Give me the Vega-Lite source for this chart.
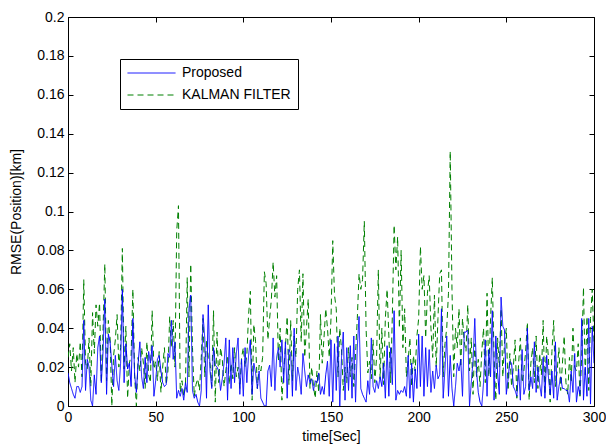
{
  "$schema": "https://vega.github.io/schema/vega-lite/v6.json",
  "autosize": "none",
  "width": 526,
  "height": 389,
  "padding": {"left": 68, "top": 17, "right": 12, "bottom": 41},
  "background": "white",
  "config": {
    "view": {"stroke": "black", "strokeWidth": 1},
    "font": "Liberation Sans",
    "axis": {
      "grid": false,
      "domainColor": "black",
      "tickColor": "black",
      "labelColor": "black",
      "titleColor": "black",
      "labelFont": "Liberation Sans",
      "titleFont": "Liberation Sans",
      "labelFontSize": 14,
      "titleFontSize": 14,
      "titleFontWeight": "normal",
      "tickSize": -5
    }
  },
  "data": {
    "values": [
      {"t":0,"p":0.017,"k":0.025},{"t":1,"p":0.012,"k":0.032},{"t":2,"p":0.009,"k":0.018},{"t":3,"p":0.006,"k":0.030},{"t":4,"p":0.004,"k":0.012},{"t":5,"p":0.010,"k":0.027},{"t":6,"p":0.010,"k":0.020},{"t":7,"p":0.007,"k":0.033},{"t":8,"p":0.010,"k":0.015},{"t":9,"p":0.044,"k":0.065},
      {"t":10,"p":0.008,"k":0.022},{"t":11,"p":0.024,"k":0.019},{"t":12,"p":0.020,"k":0.035},{"t":13,"p":0.003,"k":0.010},{"t":14,"p":0.000,"k":0.048},{"t":15,"p":0.016,"k":0.027},{"t":16,"p":0.006,"k":0.052},{"t":17,"p":0.030,"k":0.041},{"t":18,"p":0.036,"k":0.053},{"t":19,"p":0.012,"k":0.012},
      {"t":20,"p":0.028,"k":0.040},{"t":21,"p":0.055,"k":0.073},{"t":22,"p":0.006,"k":0.013},{"t":23,"p":0.037,"k":0.044},{"t":24,"p":0.033,"k":0.035},{"t":25,"p":0.021,"k":0.000},{"t":26,"p":0.010,"k":0.026},{"t":27,"p":0.026,"k":0.034},{"t":28,"p":0.013,"k":0.047},{"t":29,"p":0.008,"k":0.020},
      {"t":30,"p":0.022,"k":0.030},{"t":31,"p":0.060,"k":0.081},{"t":32,"p":0.012,"k":0.019},{"t":33,"p":0.032,"k":0.041},{"t":34,"p":0.019,"k":0.004},{"t":35,"p":0.022,"k":0.022},{"t":36,"p":0.010,"k":0.026},{"t":37,"p":0.045,"k":0.060},{"t":38,"p":0.016,"k":0.015},{"t":39,"p":0.007,"k":0.000},
      {"t":40,"p":0.022,"k":0.025},{"t":41,"p":0.033,"k":0.018},{"t":42,"p":0.015,"k":0.030},{"t":43,"p":0.009,"k":0.022},{"t":44,"p":0.025,"k":0.009},{"t":45,"p":0.012,"k":0.033},{"t":46,"p":0.028,"k":0.016},{"t":47,"p":0.022,"k":0.012},{"t":48,"p":0.031,"k":0.049},{"t":49,"p":0.005,"k":0.019},
      {"t":50,"p":0.013,"k":0.023},{"t":51,"p":0.024,"k":0.013},{"t":52,"p":0.026,"k":0.028},{"t":53,"p":0.018,"k":0.007},{"t":54,"p":0.012,"k":0.020},{"t":55,"p":0.010,"k":0.030},{"t":56,"p":0.011,"k":0.011},{"t":57,"p":0.027,"k":0.018},{"t":58,"p":0.025,"k":0.046},{"t":59,"p":0.044,"k":0.030},
      {"t":60,"p":0.024,"k":0.044},{"t":61,"p":0.033,"k":0.020},{"t":62,"p":0.004,"k":0.090},{"t":63,"p":0.008,"k":0.103},{"t":64,"p":0.005,"k":0.007},{"t":65,"p":0.009,"k":0.013},{"t":66,"p":0.003,"k":0.005},{"t":67,"p":0.012,"k":0.010},{"t":68,"p":0.007,"k":0.066},{"t":69,"p":0.050,"k":0.015},
      {"t":70,"p":0.057,"k":0.073},{"t":71,"p":0.008,"k":0.030},{"t":72,"p":0.004,"k":0.005},{"t":73,"p":0.006,"k":0.011},{"t":74,"p":0.002,"k":0.014},{"t":75,"p":0.000,"k":0.008},{"t":76,"p":0.008,"k":0.025},{"t":77,"p":0.047,"k":0.045},{"t":78,"p":0.035,"k":0.015},{"t":79,"p":0.004,"k":0.034},
      {"t":80,"p":0.052,"k":0.025},{"t":81,"p":0.018,"k":0.022},{"t":82,"p":0.009,"k":0.010},{"t":83,"p":0.030,"k":0.049},{"t":84,"p":0.021,"k":0.002},{"t":85,"p":0.020,"k":0.038},{"t":86,"p":0.018,"k":0.012},{"t":87,"p":0.008,"k":0.030},{"t":88,"p":0.014,"k":0.024},{"t":89,"p":0.022,"k":0.010},
      {"t":90,"p":0.035,"k":0.018},{"t":91,"p":0.003,"k":0.026},{"t":92,"p":0.034,"k":0.011},{"t":93,"p":0.009,"k":0.022},{"t":94,"p":0.030,"k":0.014},{"t":95,"p":0.012,"k":0.030},{"t":96,"p":0.027,"k":0.015},{"t":97,"p":0.035,"k":0.020},{"t":98,"p":0.006,"k":0.009},{"t":99,"p":0.024,"k":0.025},
      {"t":100,"p":0.005,"k":0.030},{"t":101,"p":0.030,"k":0.020},{"t":102,"p":0.012,"k":0.026},{"t":103,"p":0.026,"k":0.047},{"t":104,"p":0.034,"k":0.059},{"t":105,"p":0.006,"k":0.003},{"t":106,"p":0.022,"k":0.042},{"t":107,"p":0.017,"k":0.033},{"t":108,"p":0.009,"k":0.009},{"t":109,"p":0.018,"k":0.021},
      {"t":110,"p":0.004,"k":0.018},{"t":111,"p":0.002,"k":0.025},{"t":112,"p":0.000,"k":0.069},{"t":113,"p":0.000,"k":0.063},{"t":114,"p":0.018,"k":0.034},{"t":115,"p":0.021,"k":0.045},{"t":116,"p":0.010,"k":0.055},{"t":117,"p":0.035,"k":0.074},{"t":118,"p":0.008,"k":0.056},{"t":119,"p":0.025,"k":0.067},
      {"t":120,"p":0.030,"k":0.023},{"t":121,"p":0.020,"k":0.040},{"t":122,"p":0.034,"k":0.003},{"t":123,"p":0.012,"k":0.018},{"t":124,"p":0.033,"k":0.030},{"t":125,"p":0.004,"k":0.046},{"t":126,"p":0.029,"k":0.011},{"t":127,"p":0.027,"k":0.044},{"t":128,"p":0.005,"k":0.013},{"t":129,"p":0.040,"k":0.036},
      {"t":130,"p":0.008,"k":0.025},{"t":131,"p":0.020,"k":0.060},{"t":132,"p":0.015,"k":0.070},{"t":133,"p":0.006,"k":0.033},{"t":134,"p":0.027,"k":0.068},{"t":135,"p":0.018,"k":0.025},{"t":136,"p":0.010,"k":0.040},{"t":137,"p":0.016,"k":0.055},{"t":138,"p":0.012,"k":0.009},{"t":139,"p":0.014,"k":0.020},
      {"t":140,"p":0.008,"k":0.010},{"t":141,"p":0.013,"k":0.004},{"t":142,"p":0.012,"k":0.018},{"t":143,"p":0.017,"k":0.007},{"t":144,"p":0.006,"k":0.047},{"t":145,"p":0.010,"k":0.022},{"t":146,"p":0.006,"k":0.035},{"t":147,"p":0.016,"k":0.050},{"t":148,"p":0.023,"k":0.040},{"t":149,"p":0.005,"k":0.025},
      {"t":150,"p":0.034,"k":0.045},{"t":151,"p":0.002,"k":0.085},{"t":152,"p":0.032,"k":0.057},{"t":153,"p":0.008,"k":0.050},{"t":154,"p":0.036,"k":0.015},{"t":155,"p":0.000,"k":0.040},{"t":156,"p":0.025,"k":0.029},{"t":157,"p":0.038,"k":0.008},{"t":158,"p":0.003,"k":0.020},{"t":159,"p":0.030,"k":0.012},
      {"t":160,"p":0.008,"k":0.030},{"t":161,"p":0.031,"k":0.015},{"t":162,"p":0.004,"k":0.025},{"t":163,"p":0.036,"k":0.010},{"t":164,"p":0.002,"k":0.027},{"t":165,"p":0.030,"k":0.045},{"t":166,"p":0.046,"k":0.068},{"t":167,"p":0.009,"k":0.060},{"t":168,"p":0.006,"k":0.065},{"t":169,"p":0.004,"k":0.095},
      {"t":170,"p":0.002,"k":0.040},{"t":171,"p":0.013,"k":0.017},{"t":172,"p":0.006,"k":0.023},{"t":173,"p":0.035,"k":0.014},{"t":174,"p":0.010,"k":0.034},{"t":175,"p":0.007,"k":0.012},{"t":176,"p":0.013,"k":0.025},{"t":177,"p":0.009,"k":0.070},{"t":178,"p":0.015,"k":0.014},{"t":179,"p":0.010,"k":0.040},
      {"t":180,"p":0.022,"k":0.011},{"t":181,"p":0.004,"k":0.045},{"t":182,"p":0.031,"k":0.060},{"t":183,"p":0.005,"k":0.036},{"t":184,"p":0.030,"k":0.012},{"t":185,"p":0.011,"k":0.047},{"t":186,"p":0.049,"k":0.093},{"t":187,"p":0.003,"k":0.070},{"t":188,"p":0.008,"k":0.087},{"t":189,"p":0.006,"k":0.040},
      {"t":190,"p":0.008,"k":0.080},{"t":191,"p":0.007,"k":0.030},{"t":192,"p":0.010,"k":0.050},{"t":193,"p":0.005,"k":0.015},{"t":194,"p":0.026,"k":0.023},{"t":195,"p":0.004,"k":0.035},{"t":196,"p":0.022,"k":0.010},{"t":197,"p":0.002,"k":0.026},{"t":198,"p":0.019,"k":0.018},{"t":199,"p":0.009,"k":0.036},
      {"t":200,"p":0.037,"k":0.045},{"t":201,"p":0.010,"k":0.082},{"t":202,"p":0.036,"k":0.060},{"t":203,"p":0.005,"k":0.067},{"t":204,"p":0.030,"k":0.035},{"t":205,"p":0.010,"k":0.058},{"t":206,"p":0.029,"k":0.067},{"t":207,"p":0.007,"k":0.040},{"t":208,"p":0.018,"k":0.025},{"t":209,"p":0.009,"k":0.057},
      {"t":210,"p":0.021,"k":0.020},{"t":211,"p":0.014,"k":0.045},{"t":212,"p":0.016,"k":0.068},{"t":213,"p":0.050,"k":0.070},{"t":214,"p":0.004,"k":0.015},{"t":215,"p":0.019,"k":0.032},{"t":216,"p":0.036,"k":0.040},{"t":217,"p":0.005,"k":0.058},{"t":218,"p":0.026,"k":0.131},{"t":219,"p":0.009,"k":0.060},
      {"t":220,"p":0.000,"k":0.015},{"t":221,"p":0.010,"k":0.040},{"t":222,"p":0.022,"k":0.030},{"t":223,"p":0.018,"k":0.050},{"t":224,"p":0.024,"k":0.020},{"t":225,"p":0.005,"k":0.045},{"t":226,"p":0.038,"k":0.033},{"t":227,"p":0.038,"k":0.028},{"t":228,"p":0.039,"k":0.052},{"t":229,"p":0.000,"k":0.018},
      {"t":230,"p":0.012,"k":0.035},{"t":231,"p":0.023,"k":0.006},{"t":232,"p":0.045,"k":0.032},{"t":233,"p":0.018,"k":0.015},{"t":234,"p":0.007,"k":0.024},{"t":235,"p":0.002,"k":0.010},{"t":236,"p":0.000,"k":0.028},{"t":237,"p":0.012,"k":0.040},{"t":238,"p":0.034,"k":0.012},{"t":239,"p":0.005,"k":0.058},
      {"t":240,"p":0.029,"k":0.015},{"t":241,"p":0.015,"k":0.045},{"t":242,"p":0.049,"k":0.066},{"t":243,"p":0.003,"k":0.025},{"t":244,"p":0.036,"k":0.003},{"t":245,"p":0.017,"k":0.035},{"t":246,"p":0.006,"k":0.020},{"t":247,"p":0.056,"k":0.050},{"t":248,"p":0.041,"k":0.015},{"t":249,"p":0.039,"k":0.033},
      {"t":250,"p":0.006,"k":0.040},{"t":251,"p":0.014,"k":0.008},{"t":252,"p":0.023,"k":0.027},{"t":253,"p":0.022,"k":0.010},{"t":254,"p":0.010,"k":0.020},{"t":255,"p":0.008,"k":0.034},{"t":256,"p":0.005,"k":0.004},{"t":257,"p":0.019,"k":0.022},{"t":258,"p":0.003,"k":0.035},{"t":259,"p":0.029,"k":0.012},
      {"t":260,"p":0.006,"k":0.018},{"t":261,"p":0.010,"k":0.028},{"t":262,"p":0.040,"k":0.043},{"t":263,"p":0.008,"k":0.003},{"t":264,"p":0.015,"k":0.022},{"t":265,"p":0.009,"k":0.030},{"t":266,"p":0.033,"k":0.012},{"t":267,"p":0.007,"k":0.036},{"t":268,"p":0.020,"k":0.009},{"t":269,"p":0.011,"k":0.027},
      {"t":270,"p":0.005,"k":0.016},{"t":271,"p":0.025,"k":0.044},{"t":272,"p":0.004,"k":0.006},{"t":273,"p":0.026,"k":0.036},{"t":274,"p":0.015,"k":0.025},{"t":275,"p":0.006,"k":0.002},{"t":276,"p":0.018,"k":0.028},{"t":277,"p":0.004,"k":0.044},{"t":278,"p":0.033,"k":0.010},{"t":279,"p":0.003,"k":0.018},
      {"t":280,"p":0.010,"k":0.030},{"t":281,"p":0.015,"k":0.008},{"t":282,"p":0.009,"k":0.022},{"t":283,"p":0.009,"k":0.036},{"t":284,"p":0.008,"k":0.012},{"t":285,"p":0.008,"k":0.006},{"t":286,"p":0.002,"k":0.025},{"t":287,"p":0.018,"k":0.012},{"t":288,"p":0.007,"k":0.040},{"t":289,"p":0.027,"k":0.020},
      {"t":290,"p":0.002,"k":0.018},{"t":291,"p":0.010,"k":0.032},{"t":292,"p":0.006,"k":0.004},{"t":293,"p":0.045,"k":0.026},{"t":294,"p":0.003,"k":0.061},{"t":295,"p":0.020,"k":0.015},{"t":296,"p":0.005,"k":0.046},{"t":297,"p":0.045,"k":0.008},{"t":298,"p":0.001,"k":0.045},{"t":299,"p":0.041,"k":0.060},
      {"t":300,"p":0.022,"k":0.032}
    ]
  },
  "transform": [{"fold": ["k", "p"], "as": ["s", "v"]}],
  "layer": [
    {
      "mark": {"type": "line", "strokeWidth": 1, "clip": true},
      "encoding": {
        "x": {
          "field": "t", "type": "quantitative",
          "scale": {"domain": [0, 300], "nice": false},
          "axis": {"values": [0, 50, 100, 150, 200, 250, 300], "title": "time[Sec]", "labelPadding": 9, "titlePadding": 5, "labelFlush": false}
        },
        "y": {
          "field": "v", "type": "quantitative",
          "scale": {"domain": [0, 0.2], "nice": false},
          "axis": {"values": [0, 0.02, 0.04, 0.06, 0.08, 0.1, 0.12, 0.14, 0.16, 0.18, 0.2], "format": "~g", "title": "RMSE(Position)[km]", "labelPadding": 9, "titlePadding": 13, "labelFlush": false}
        },
        "color": {
          "field": "s", "type": "nominal",
          "scale": {"domain": ["p", "k"], "range": ["#0000ff", "#008000"]},
          "legend": {
            "title": null,
            "orient": "none",
            "legendX": 52,
            "legendY": 42,
            "labelExpr": "datum.label == 'p' ? 'Proposed' : 'KALMAN FILTER'",
            "symbolType": "stroke",
            "symbolSize": 2304,
            "symbolStrokeWidth": 1,
            "labelFontSize": 14,
            "labelFont": "Liberation Sans",
            "labelColor": "black",
            "labelOffset": 6,
            "clipHeight": 14,
            "rowPadding": 8,
            "padding": 7,
            "strokeColor": "black",
            "fillColor": "white"
          }
        },
        "strokeDash": {
          "field": "s", "type": "nominal",
          "scale": {"domain": ["p", "k"], "range": [[1, 0], [6, 4]]}
        }
      }
    },
    {
      "mark": {"type": "rule", "opacity": 0},
      "encoding": {
        "x": {
          "datum": 0, "type": "quantitative",
          "scale": {"domain": [0, 300], "nice": false},
          "axis": {"orient": "top", "values": [0, 50, 100, 150, 200, 250, 300], "labels": false, "title": null, "domain": false}
        },
        "y": {
          "datum": 0, "type": "quantitative",
          "scale": {"domain": [0, 0.2], "nice": false},
          "axis": {"orient": "right", "values": [0, 0.02, 0.04, 0.06, 0.08, 0.1, 0.12, 0.14, 0.16, 0.18, 0.2], "labels": false, "title": null, "domain": false}
        }
      }
    }
  ],
  "resolve": {"axis": {"x": "independent", "y": "independent"}}
}
